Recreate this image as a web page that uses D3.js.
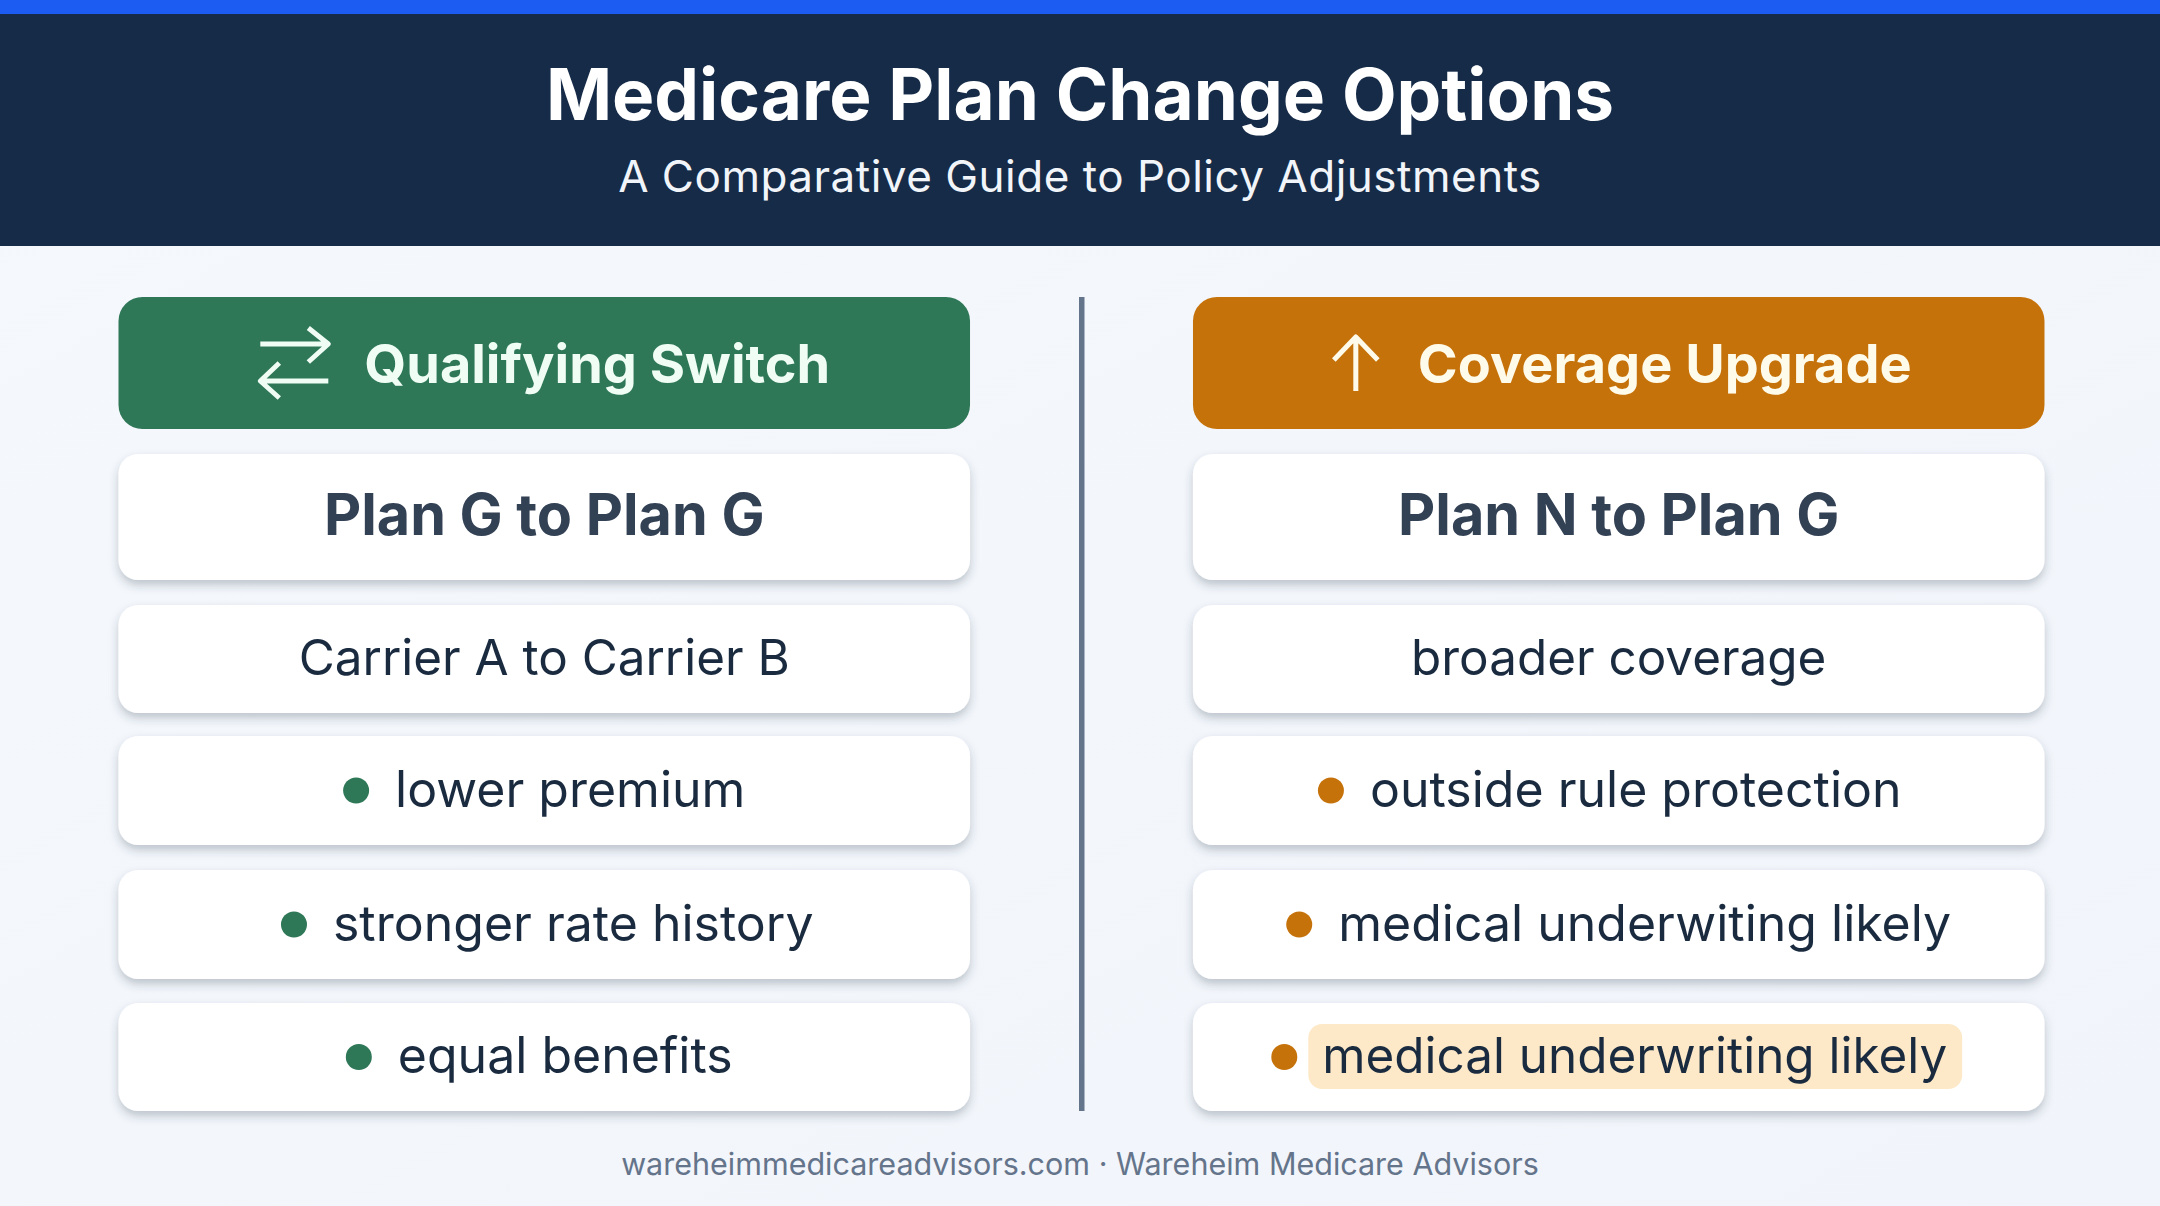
<!DOCTYPE html>
<html>
<head>
<meta charset="utf-8">
<script src="https://cdn.jsdelivr.net/npm/d3@7"></script>
<style>
	html, body { margin: 0; background: #f3f6fb; }
	svg { display: block; font-family: Inter, "Noto Sans", sans-serif; }
</style>
</head>
<body>
<svg id="chart" width="2160" height="1206" viewBox="0 0 2160 1206"></svg>
<script>
const pageTitle = 'Medicare Plan Change Options'
const pageSubtitle = 'A Comparative Guide to Policy Adjustments'
const footerText = 'wareheimmedicareadvisors.com · Wareheim Medicare Advisors'

// one entry per column
const columnTitles = ['Qualifying Switch', 'Coverage Upgrade']
const planChanges = ['Plan G to Plan G', 'Plan N to Plan G']
const leadNotes = ['Carrier A to Carrier B', 'broader coverage']
const switchPoints = ['lower premium', 'stronger rate history', 'equal benefits']
const upgradePoints = ['outside rule protection', 'medical underwiting likely', 'medical underwriting likely']
const columnPoints = [switchPoints, upgradePoints]
const highlightedPoints = ['medical underwriting likely']

const columnColors = ['#2e7757', '#c6720a']
const rowKeys = ['head', 'plan', 'note', 'point0', 'point1', 'point2']

const svg = d3.select('#chart')
const width = 2160

const defs = svg.append('defs')
const bg = defs.append('linearGradient').attr('id', 'bg').attr('x1', 0).attr('y1', 0).attr('x2', 1).attr('y2', 1)
bg.append('stop').attr('offset', 0).attr('stop-color', '#f5f8fc')
bg.append('stop').attr('offset', 1).attr('stop-color', '#f1f4fa')
defs.append('filter').attr('id', 'cardShadow')
	.attr('x', '-5%').attr('y', '-20%').attr('width', '110%').attr('height', '150%')
	.append('feDropShadow')
	.attr('dx', 0).attr('dy', 5).attr('stdDeviation', 5)
	.attr('flood-color', '#334155').attr('flood-opacity', 0.28)

// page furniture
svg.append('rect').attr('width', width).attr('height', 1206).attr('fill', 'url(#bg)')
svg.append('rect').attr('width', width).attr('height', 246).attr('fill', '#162b47')
svg.append('rect').attr('width', width).attr('height', 14).attr('fill', '#1c5cf2')

svg.append('text').text(pageTitle)
	.attr('x', 1080).attr('y', 120).attr('text-anchor', 'middle')
	.attr('font-size', 71).attr('font-weight', 700).attr('fill', '#fff')
svg.append('text').text(pageSubtitle)
	.attr('x', 1080).attr('y', 192).attr('text-anchor', 'middle')
	.attr('font-size', 44).attr('letter-spacing', 0.5).attr('fill', '#f1f5f9')
svg.append('text').text(footerText)
	.attr('x', 1080).attr('y', 1175).attr('text-anchor', 'middle')
	.attr('font-size', 30.5).attr('fill', '#64748b')

// columns and rows
const x = d3.scaleBand().domain(columnTitles).range([118.5, 2044.5]).paddingInner(0.2075)
const rowTop = d3.scaleOrdinal(rowKeys, [297, 454, 605, 736, 870, 1003])
const rowHeight = d3.scaleOrdinal(rowKeys, [132, 126, 108, 109, 109, 108])

svg.append('rect').attr('x', 1079).attr('y', 297).attr('width', 5.5).attr('height', 814).attr('fill', '#64748b')

const columns = svg.selectAll('g.column')
	.data(columnTitles.map((title, i) => ({
		title,
		color: columnColors[i],
		plan: planChanges[i],
		note: leadNotes[i],
		points: columnPoints[i],
	})))
	.join('g')
	.attr('class', 'column')
	.attr('transform', d => `translate(${x(d.title)},0)`)

const cardWidth = x.bandwidth()
const midX = cardWidth / 2

function centerY(key) {
	return rowTop(key) + rowHeight(key) / 2
}

// coloured header card
columns.append('rect')
	.attr('y', rowTop('head')).attr('width', cardWidth).attr('height', rowHeight('head'))
	.attr('rx', 24).attr('fill', d => d.color)

const headLabels = columns.append('text')
	.text(d => d.title)
	.attr('y', centerY('head') + 20)
	.attr('font-size', 54).attr('font-weight', 700)
	.attr('fill', (d, i) => (i === 0 ? '#f0fdf4' : '#fffbeb'))

const iconPaths = [
	() => {
		const p = d3.path()
		p.moveTo(-34, -19); p.lineTo(34, -19)
		p.moveTo(14, -35); p.lineTo(34, -19); p.lineTo(14, -1)
		p.moveTo(34, 18); p.lineTo(-34, 18)
		p.moveTo(-15, 0); p.lineTo(-34, 18); p.lineTo(-15, 35)
		return p.toString()
	},
	() => {
		const p = d3.path()
		p.moveTo(0, 28); p.lineTo(0, -26)
		p.moveTo(-22, -3); p.lineTo(0, -26); p.lineTo(22, -3)
		return p.toString()
	},
]
const iconWidths = [68, 44]
const iconGaps = [36, 40]
const headNudge = [1, 4]

const headIcons = columns.append('path')
	.attr('d', (d, i) => iconPaths[i]())
	.attr('fill', 'none').attr('stroke-width', 5).attr('stroke-linejoin', 'round')
	.attr('stroke', (d, i) => (i === 0 ? '#f0fdf4' : '#fffbeb'))

// centre icon + label as one group inside the card
headLabels.each(function (d, i) {
	const textWidth = this.getComputedTextLength()
	const total = iconWidths[i] + iconGaps[i] + textWidth
	const left = midX - total / 2 + headNudge[i]
	d3.select(this).attr('x', left + iconWidths[i] + iconGaps[i])
	d3.select(headIcons.nodes()[i])
		.attr('transform', `translate(${left + iconWidths[i] / 2},${centerY('head')})`)
})

// white cards
function card(sel, key) {
	sel.append('rect')
		.attr('y', rowTop(key)).attr('width', cardWidth).attr('height', rowHeight(key))
		.attr('rx', 20).attr('fill', '#fff').attr('filter', 'url(#cardShadow)')
}

columns.call(card, 'plan')
columns.append('text').text(d => d.plan)
	.attr('x', midX).attr('y', centerY('plan') + 18).attr('text-anchor', 'middle')
	.attr('font-size', 57.5).attr('font-weight', 700).attr('fill', '#334155')

columns.call(card, 'note')
columns.append('text').text(d => d.note)
	.attr('x', midX).attr('y', centerY('note') + 15.5).attr('text-anchor', 'middle')
	.attr('font-size', 49.4).attr('fill', '#1a2b40')

// bullet rows
const points = columns.selectAll('g.point')
	.data(d => d.points.map((label, i) => ({label, color: d.color, key: 'point' + i})))
	.join('g')
	.attr('class', 'point')

points.each(function (d) { card(d3.select(this), d.key) })

points.filter(d => highlightedPoints.includes(d.label))
	.append('rect')
	.attr('class', 'highlight')
	.attr('y', d => centerY(d.key) - 33)
	.attr('height', 65).attr('rx', 14).attr('fill', '#fde9c8')

points.append('circle')
	.attr('cy', d => centerY(d.key)).attr('r', 13).attr('fill', d => d.color)

points.append('text').text(d => d.label)
	.attr('y', d => centerY(d.key) + 16)
	.attr('font-size', d => (highlightedPoints.includes(d.label) ? 49.4 : 50))
	.attr('fill', '#1a2b40')

// the rows in the picture are not all quite centred
const rowNudge = new Map([
	['stronger rate history', 3],
	['equal benefits', -5],
	['outside rule protection', -9],
	['medical underwriting likely', -2],
])

// centre dot + label per row, the highlighted row has a tighter dot gap plus box padding
points.each(function (d) {
	const row = d3.select(this)
	const label = row.select('text')
	const textWidth = label.node().getComputedTextLength()
	const hl = highlightedPoints.includes(d.label)
	const gap = hl ? 11 + 14 : 26
	const total = 26 + gap + textWidth + (hl ? 15 : 0)
	const left = midX - total / 2 + (rowNudge.get(d.label) || 0)
	label.attr('x', left + 26 + gap)
	row.select('circle').attr('cx', left + 13)
	if (hl) row.select('rect.highlight').attr('x', left + 26 + 11).attr('width', textWidth + 14 + 15)
})
</script>
</body>
</html>
